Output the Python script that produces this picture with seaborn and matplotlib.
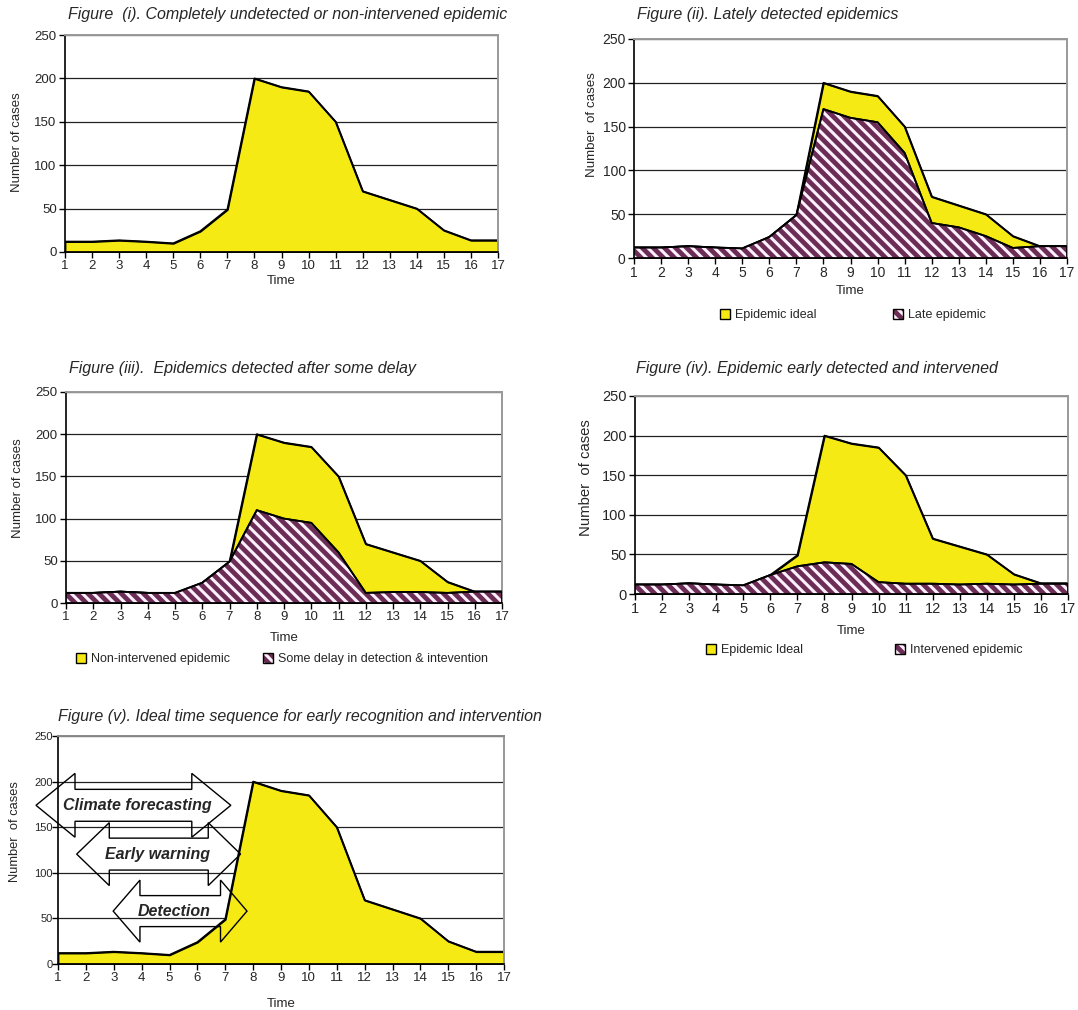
import matplotlib.pyplot as plt
import seaborn as sns
from matplotlib.patches import Patch, Polygon

# data
time = list(range(1, 18))
ideal = [12, 12, 13.5, 12, 10, 24, 49, 200, 190, 185, 150, 70, 60, 50, 25, 13.5, 13.5]
late = [12, 12, 13.5, 12, 11, 24, 49, 170, 160, 155, 120, 40, 35, 25, 11.5, 13.5, 13.5]
delayed = [12, 12, 13.5, 12, 12, 24, 49, 110, 100, 95, 60, 12, 13, 13, 12, 13.5, 13.5]
intervened = [12, 12, 13.5, 12, 11, 24, 35, 40, 38, 15, 13, 13, 12, 13, 12, 13, 13]

titles = [
    "Figure  (i). Completely undetected or non-intervened epidemic",
    "Figure (ii). Lately detected epidemics",
    "Figure (iii).  Epidemics detected after some delay",
    "Figure (iv). Epidemic early detected and intervened",
    "Figure (v). Ideal time sequence for early recognition and intervention",
]
legend_ii = ["Epidemic ideal", "Late epidemic"]
legend_iii = ["Non-intervened epidemic", "Some delay in detection & intevention"]
legend_iv = ["Epidemic Ideal", "Intervened epidemic"]

# double arrows of figure (v): label, left tip, shaft start, shaft end, right tip, centre, head half, shaft half, text x
arrows = [
    ("Climate forecasting", 0.21, 1.61, 5.80, 7.20, 174, 35, 17.5, 3.83),
    ("Early warning", 1.67, 2.84, 6.39, 7.55, 120.5, 34.5, 17.5, 4.58),
    ("Detection", 2.98, 3.94, 6.83, 7.78, 58, 34, 17, 5.18),
]

sns.set_style("white")
plt.rcParams['font.family'] = ['Liberation Sans', 'DejaVu Sans']
plt.rcParams['hatch.linewidth'] = 2.2
plt.rcParams['hatch.color'] = '#fbeefb'

YELLOW = '#f5ea14'
PURPLE = '#6b2d55'
STRIPE = '#fcf0fc'
HATCH = '\\\\\\'

W, H = 1078, 1010
fig = plt.figure(figsize=(W / 100, H / 100), dpi=100)


def panel(l, r, t, b, tick_size, ylab, ylab_size, ylab_x, ylab_y, xlab_y):
    ax = fig.add_axes([l / W, 1 - b / H, (r - l) / W, (b - t) / H])
    ax.set_xlim(1, 17)
    ax.set_ylim(0, 250)
    ax.set_xticks(time)
    ax.set_yticks(range(0, 251, 50))
    ax.yaxis.grid(True, color='#222222', lw=0.9)
    ax.set_axisbelow(True)
    for s in ['left', 'bottom']:
        ax.spines[s].set_color('black')
        ax.spines[s].set_linewidth(1.2)
    for s in ['right', 'top']:
        ax.spines[s].set_color('#999999')
        ax.spines[s].set_linewidth(1.4)
    ax.tick_params(axis='both', direction='out', length=4, width=1, color='black',
                   labelsize=tick_size, pad=2, bottom=True, left=True)
    ax.set_xlabel("Time", fontsize=9.5)
    ax.set_ylabel(ylab, fontsize=ylab_size)
    ax.yaxis.set_label_coords(ylab_x, ylab_y)
    ax.xaxis.set_label_coords(0.5, xlab_y)
    return ax


def yellow_area(ax, y):
    ax.fill_between(time, y, facecolor=YELLOW, edgecolor='black', lw=1.3, zorder=1)
    sns.lineplot(x=time, y=y, color='black', lw=1.3, ax=ax, zorder=2)


def hatched_area(ax, y):
    ax.fill_between(time, y, facecolor=PURPLE, edgecolor=STRIPE, hatch=HATCH, lw=0, zorder=3)
    ax.fill_between(time, y, facecolor='none', edgecolor='black', lw=1.3, zorder=4)
    sns.lineplot(x=time, y=y, color='black', lw=1.3, ax=ax, zorder=4)


def add_legend(labels, x, y, spacing, size):
    h_y = Patch(facecolor=YELLOW, edgecolor='black', lw=1)
    h_p = (Patch(facecolor=PURPLE, edgecolor=STRIPE, hatch=HATCH, lw=0),
           Patch(facecolor='none', edgecolor='black', lw=1))
    fig.legend([h_y, h_p], labels, loc='center left', bbox_to_anchor=(x / W, 1 - y / H),
               ncol=2, frameon=False, handlelength=0.8, handleheight=0.8,
               handletextpad=0.4, columnspacing=spacing, fontsize=size,
               borderpad=0, borderaxespad=0)


def title(text, x, y):
    fig.text(x / W, 1 - y / H, text, fontsize=11.5, style='italic', va='center', ha='left')


# (i)
ax1 = panel(65, 498, 35, 252, 9.5, "Number of cases", 9.5, -0.096, 0.507, -0.105)
yellow_area(ax1, ideal)
title(titles[0], 68, 14)

# (ii)
ax2 = panel(634, 1067, 39, 258, 10, "Number  of cases", 9.6, -0.084, 0.61, -0.125)
yellow_area(ax2, ideal)
hatched_area(ax2, late)
title(titles[1], 637, 14)
add_legend(legend_ii, 720, 315, 6.1, 9)

# (iii)
ax3 = panel(66, 502, 392, 603, 9.5, "Number of cases", 9.5, -0.097, 0.545, -0.137)
yellow_area(ax3, ideal)
hatched_area(ax3, delayed)
title(titles[2], 69, 369)
add_legend(legend_iii, 76, 659, 2.6, 9)

# (iv)
ax4 = panel(635, 1068, 396, 594, 10.5, "Number  of cases", 10.7, -0.097, 0.586, -0.155)
yellow_area(ax4, ideal)
hatched_area(ax4, intervened)
title(titles[3], 636, 368)
add_legend(legend_iv, 706, 650, 7.35, 9)

# (v)
ax5 = panel(58, 504, 736, 964, 9.5, "Number  of cases", 9.3, -0.082, 0.58, -0.15)
ax5.tick_params(axis='y', labelsize=8, pad=0)
ax5.spines['top'].set_color('#888888')
yellow_area(ax5, ideal)
title(titles[4], 58, 716)
for label, lt, sl, sr, rt, ym, hh, sh, tx in arrows:
    pts = [(lt, ym), (sl, ym + hh), (sl, ym + sh), (sr, ym + sh), (sr, ym + hh),
           (rt, ym), (sr, ym - hh), (sr, ym - sh), (sl, ym - sh), (sl, ym - hh)]
    ax5.add_patch(Polygon(pts, closed=True, facecolor='none', edgecolor='black',
                          lw=1, clip_on=False, zorder=5))
    ax5.text(tx, ym, label, fontsize=11.5, fontweight='bold', style='italic',
             ha='center', va='center', zorder=6)

fig.savefig("out.png", dpi=100)
